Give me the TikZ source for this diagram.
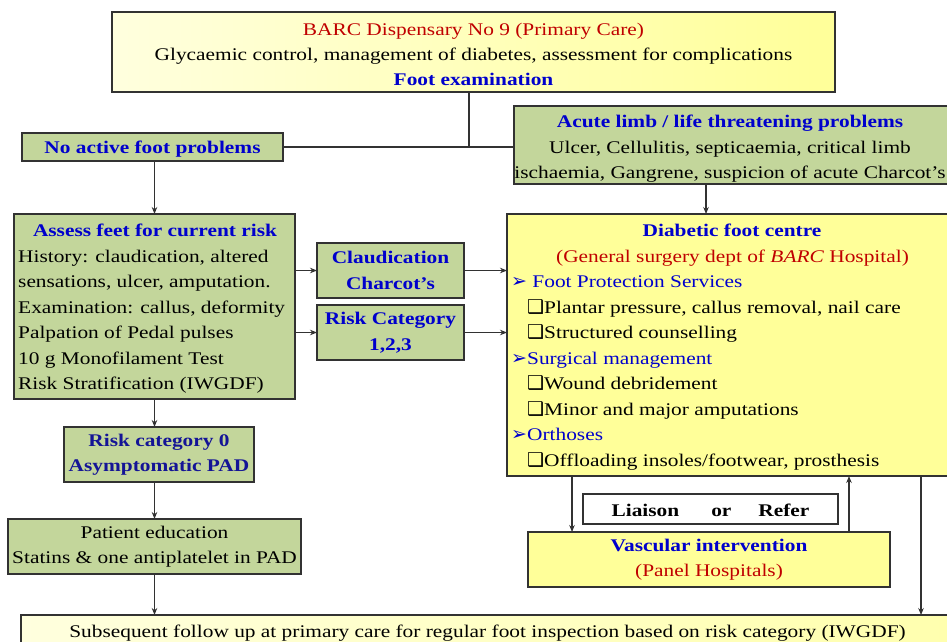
\documentclass[tikz,border=0pt]{standalone}
\usepackage{fontspec}
\setmainfont{Liberation Serif}[FakeStretch=1.2]
\newfontfamily\dingfont{DejaVu Sans}
\usetikzlibrary{arrows.meta,calc}
\definecolor{boxgreen}{RGB}{195,214,155}
\definecolor{boxyellow}{RGB}{255,255,153}
\definecolor{paleyellow}{RGB}{255,255,222}
\definecolor{tblue}{RGB}{0,0,204}
\definecolor{tnavy}{RGB}{20,20,150}
\definecolor{tred}{RGB}{192,0,0}
\definecolor{edge}{RGB}{50,50,50}
\newcommand\sqb{{\dingfont\fontsize{19}{19}\selectfont ❑}}
\newcommand\arb{{\dingfont\fontsize{19}{19}\selectfont ➢}}
\tikzset{
  boxbase/.style={draw=edge, line width=1.3pt, inner sep=0pt, outer sep=0pt},
  gbox/.style={boxbase, fill=boxgreen},
  ybox/.style={boxbase, fill=boxyellow},
  txt/.style={font=\fontsize{17.8}{25.5}\selectfont, inner sep=0pt, align=center},
  btxt/.style={txt, font=\fontsize{17.8}{25.5}\selectfont\bfseries},
  line/.style={anchor=base west, inner sep=0pt, font=\fontsize{17.8}{25.5}\selectfont},
  conn/.style={draw=edge, line width=1.1pt},
  arr/.style={conn, -{Stealth[length=7pt,width=5.5pt]}},
}
\begin{document}
\begin{tikzpicture}[x=1pt,y=-1pt]
\path[use as bounding box, clip] (0,0) rectangle (947,641);
\fill[white] (0,0) rectangle (947,641);

% top box
\node[boxbase, left color=paleyellow, right color=boxyellow, minimum width=723, minimum height=80,
      txt, font=\fontsize{17.8}{25}\selectfont] (top) at (473.5,52)
  {\rule{0pt}{16.5pt}{\color{tred}BARC Dispensary No 9 (Primary Care)}\\
   Glycaemic control, management of diabetes, assessment for complications\\
   {\color{tblue}\bfseries Foot examination}};

% no active
\node[gbox, btxt, text=tblue, minimum width=261, minimum height=28] (noact) at (152.5,147)
  {\rule{0pt}{16pt}No active foot problems};

% acute
\node[gbox, minimum width=436, minimum height=78] (acute) at (732,145) {};
\node[txt] (acutetext) at (730,149)
  {{\color{tblue}\bfseries Acute limb / life threatening problems}\\
   Ulcer, Cellulitis, septicaemia, critical limb\\
   ischaemia, Gangrene, suspicion of acute Charcot’s};

% assess
\node[gbox, minimum width=281, minimum height=185] (assess) at (154.5,306.5) {};
\node[btxt, text=tblue, anchor=base] (ash) at (155,236.5) {Assess feet for current risk};
\node[line] (as1) at (18,262) {History: claudication, altered};
\node[line] (as2) at (18,287.5) {sensations, ulcer, amputation.};
\node[line] (as3) at (18,313) {Examination: callus, deformity};
\node[line] (as4) at (18,338.5) {Palpation of Pedal pulses};
\node[line] (as5) at (18,364) {10 g Monofilament Test};
\node[line] (as6) at (18,389.5) {Risk Stratification (IWGDF)};

% claudication / risk category
\node[gbox, btxt, text=tblue, minimum width=147, minimum height=55] (claud) at (390.5,270.5)
  {Claudication\\Charcot’s};
\node[gbox, btxt, text=tblue, minimum width=147, minimum height=55] (riskc) at (390.5,332.5)
  {Risk Category\\1,2,3};

% diabetic foot centre
\node[ybox, minimum width=451, minimum height=262] (dfc) at (732.5,345) {};
\node[btxt, text=tblue, anchor=base] (dfh) at (732,236.5) {Diabetic foot centre};
\node[txt, text=tred, anchor=base] (dfs) at (732.5,262) {(General surgery dept of \textit{BARC} Hospital)};
\node[line, text=tblue] (d1) at (511,287.5) {\arb\ Foot Protection Services};
\node[line] (d2) at (527,313) {\sqb Plantar pressure, callus removal, nail care};
\node[line] (d3) at (527,338.5) {\sqb Structured counselling};
\node[line, text=tblue] (d4) at (511,364) {\arb Surgical management};
\node[line] (d5) at (527,389.5) {\sqb Wound debridement};
\node[line] (d6) at (527,415) {\sqb Minor and major amputations};
\node[line, text=tblue] (d7) at (511,440.5) {\arb Orthoses};
\node[line] (d8) at (527,466) {\sqb Offloading insoles/footwear, prosthesis};

% risk category 0 and patient education
\node[gbox, btxt, text=tnavy, minimum width=190, minimum height=55] (risk0) at (159,454.5)
  {Risk category 0\\Asymptomatic PAD};
\node[gbox, txt, minimum width=293, minimum height=55] (patient) at (154.5,546.5)
  {Patient education\\Statins \& one antiplatelet in PAD};

% liaison and vascular
\node[boxbase, fill=white, btxt, minimum width=255, minimum height=30] (liaison) at (710.5,509)
  {\rule{0pt}{15pt}Liaison\hspace{32pt}or\hspace{27pt}Refer};
\node[ybox, txt, minimum width=362, minimum height=55] (vasc) at (709,559.5)
  {{\color{tblue}\bfseries Vascular intervention}\\{\color{tred}(Panel Hospitals)}};

% bottom
\node[boxbase, left color=paleyellow, right color=boxyellow!80, minimum width=939, minimum height=45] (bot) at (490.5,637.5) {};
\node[txt, anchor=base] (bottext) at (487.5,637)
  {Subsequent follow up at primary care for regular foot inspection based on risk category (IWGDF)};

% connectors
\coordinate (jn) at (469,147);
\draw[conn] (top.south -| jn) -- (jn);
\draw[conn] (noact.east) -- (noact.east -| acute.west);
\draw[arr] (noact.south -| assess.north) -- (assess.north);
\draw[arr] ([xshift=-26pt]acute.south) -- ([xshift=-26pt]acute.south |- dfc.north);
\draw[arr] (assess.east |- claud.west) -- (claud.west);
\draw[arr] (claud.east) -- (claud.east -| dfc.west);
\draw[arr] (assess.east |- riskc.west) -- (riskc.west);
\draw[arr] (riskc.east) -- (riskc.east -| dfc.west);
\draw[arr] (assess.south) -- (assess.south |- risk0.north);
\draw[arr] (assess.south |- risk0.south) -- (patient.north);
\draw[arr] (patient.south) -- (patient.south |- bot.north);
\draw[arr] ([xshift=-160.5pt]dfc.south) -- ([xshift=-160.5pt]dfc.south |- vasc.north);
\draw[arr] ([xshift=140pt]vasc.north) -- ([xshift=140pt]vasc.north |- dfc.south);
\draw[arr] ([xshift=188.5pt]dfc.south) -- ([xshift=188.5pt]dfc.south |- bot.north);
\end{tikzpicture}
\end{document}
